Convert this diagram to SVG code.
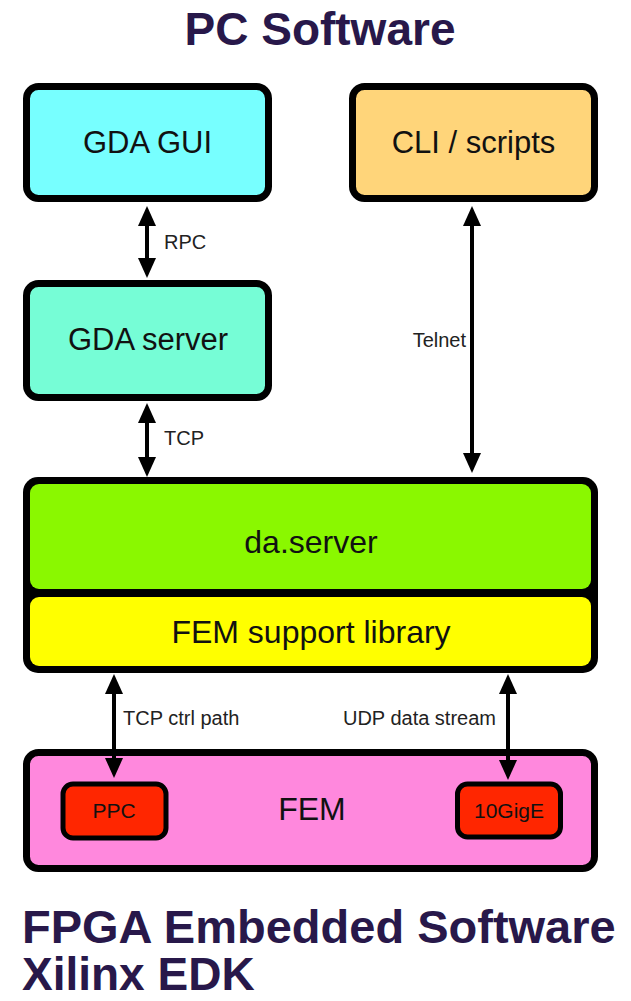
<svg xmlns="http://www.w3.org/2000/svg" width="631" height="1001" viewBox="0 0 631 1001">
<style>
.title{font-family:"Liberation Sans",Arial,sans-serif;font-weight:bold;font-size:46px;fill:#28184a}
.box{stroke:#000;stroke-width:7}
.small{stroke:#000;stroke-width:5}
.lbl{font-family:"Liberation Sans",Arial,sans-serif;font-size:31px;fill:#111;text-anchor:middle}
.elbl{font-family:"Liberation Sans",Arial,sans-serif;font-size:20px;fill:#222}
.conn{stroke:#000;stroke-width:4;fill:none}
</style>
<defs>
<marker id="ah" viewBox="0 0 20 18" refX="10" refY="9" markerWidth="20" markerHeight="18" markerUnits="userSpaceOnUse" orient="auto-start-reverse">
<path d="M0,0 L20,9 L0,18 z" fill="#000"/>
</marker>
</defs>
<rect width="631" height="1001" fill="#fff"/>
<text class="title" x="320" y="45" text-anchor="middle">PC Software</text>

<g id="gda-gui">
<rect class="box" x="26.5" y="86.5" width="242" height="112" rx="12" fill="#77ffff"/>
<text class="lbl" x="147.5" y="153">GDA GUI</text>
</g>
<g id="cli">
<rect class="box" x="352.5" y="86.5" width="242" height="112" rx="12" fill="#ffd57a"/>
<text class="lbl" x="473.5" y="153">CLI / scripts</text>
</g>
<g id="gda-server">
<rect class="box" x="26.5" y="283.5" width="242" height="114" rx="12" fill="#76fdd6"/>
<text class="lbl" x="148" y="350">GDA server</text>
</g>
<g id="da-server">
<rect x="23" y="477" width="575" height="196" rx="15" fill="#000"/>
<rect x="30" y="484" width="561" height="105" rx="9" fill="#8af800"/>
<text class="lbl" x="311" y="553" style="font-size:32px">da.server</text>
</g>
<g id="fem-support">
<rect x="30" y="597" width="561" height="69" rx="9" fill="#ffff00"/>
<text class="lbl" x="311" y="643" style="font-size:32px">FEM support library</text>
</g>
<g id="fem">
<rect class="box" x="26.5" y="752.5" width="568" height="116" rx="12" fill="#ff88dd"/>
<text class="lbl" x="312" y="820" style="font-size:32px">FEM</text>
</g>
<g id="ppc">
<rect class="small" x="63" y="784" width="103" height="54" rx="10" fill="#ff2600"/>
<text class="lbl" x="114" y="818" style="font-size:21px">PPC</text>
</g>
<g id="gige">
<rect class="small" x="457.5" y="784" width="103" height="53" rx="10" fill="#ff2600"/>
<text class="lbl" x="509" y="818" style="font-size:21px">10GigE</text>
</g>

<g id="connectors">
<line class="conn" x1="147" y1="216" x2="147" y2="268" marker-start="url(#ah)" marker-end="url(#ah)"/>
<text class="elbl" x="164" y="249">RPC</text>
<line class="conn" x1="147" y1="413" x2="147" y2="467" marker-start="url(#ah)" marker-end="url(#ah)"/>
<text class="elbl" x="164" y="445">TCP</text>
<line class="conn" x1="472" y1="216" x2="472" y2="463" marker-start="url(#ah)" marker-end="url(#ah)"/>
<text class="elbl" x="466" y="347" text-anchor="end">Telnet</text>
<line class="conn" x1="114" y1="684" x2="114" y2="768" marker-start="url(#ah)" marker-end="url(#ah)"/>
<text class="elbl" x="123" y="725">TCP ctrl path</text>
<line class="conn" x1="508" y1="684" x2="508" y2="770" marker-start="url(#ah)" marker-end="url(#ah)"/>
<text class="elbl" x="496" y="725" text-anchor="end">UDP data stream</text>
</g>

<text class="title" x="22" y="943" style="font-size:47px">FPGA Embedded Software</text>
<text class="title" x="22" y="990" style="font-size:46px">Xilinx EDK</text>
</svg>
